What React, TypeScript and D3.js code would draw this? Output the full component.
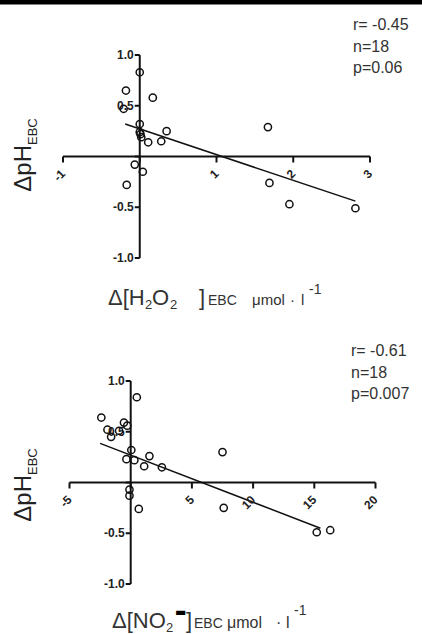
import React from "react";
import * as d3 from "d3";

// ---- data (top panel: H2O2) ----
const h2o2X = [0, -0.18, 0.17, -0.21, 0.0, 0.0, 0.02, 0.11, 0.28, 0.35, 1.67, -0.065, 0.04, -0.17, 1.69, 1.95, 2.81, 0.01];
const h2o2Y = [0.83, 0.65, 0.58, 0.47, 0.32, 0.24, 0.19, 0.14, 0.15, 0.25, 0.29, -0.08, -0.15, -0.28, -0.26, -0.47, -0.51, 0.22];
const h2o2FitX = [-0.19, 2.81];
const h2o2FitY = [0.32, -0.44];
const h2o2XTicks = [-1, 0, 1, 2, 3];
const h2o2Stats = ["r= -0.45", "n=18", "p=0.06"];

// ---- data (bottom panel: NO2-) ----
const no2X = [0.5, -2.4, -1.9, -1.6, -0.95, -0.55, -0.28, 0.05, -0.35, 0.3, 1.53, 1.1, 2.55, 7.5, -0.1, -0.1, 0.66, 7.6, 15.2, 16.3];
const no2Y = [0.84, 0.64, 0.52, 0.45, 0.51, 0.59, 0.56, 0.32, 0.23, 0.22, 0.26, 0.16, 0.15, 0.30, -0.07, -0.13, -0.26, -0.25, -0.49, -0.47];
const no2FitX = [-2.5, 15.5];
const no2FitY = [0.385, -0.45];
const no2XTicks = [-5, 0, 5, 10, 15, 20];
const no2Stats = ["r= -0.61", "n=18", "p=0.007"];

const yTicks = [1.0, 0.5, 0, -0.5, -1.0];

const FONT = "'Liberation Sans', Arial, sans-serif";
const fmtY = (v: number) => d3.format(".1f")(v).replace("\u2212", "-");
const fmtX = (v: number) => String(v);

type PanelProps = {
  xs: number[]; ys: number[]; fitX: number[]; fitY: number[];
  xTicks: number[]; stats: string[];
  xRange: [number, number]; yTop: number; yBottom: number;
  statsX: number; statsY: number; statsGap: number;
  yLabelX: number; yLabelY: number;
  xLabel: React.ReactNode;
};

function Panel(p: PanelProps) {
  const xDomain = d3.extent(p.xTicks) as [number, number];
  const x = d3.scaleLinear().domain(xDomain).range(p.xRange);
  const y = d3.scaleLinear().domain([-1, 1]).range([p.yBottom, p.yTop]);
  const line = d3.line<number>().x((d, i) => x(p.fitX[i])).y((d, i) => y(p.fitY[i]));
  const x0 = x(0);
  const y0 = y(0);
  return (
    <g>
      <path d={line(p.fitX) || ""} fill="none" stroke="#111" strokeWidth={1.5} />
      <line x1={p.xRange[0]} x2={p.xRange[1]} y1={y0} y2={y0} stroke="#111" strokeWidth={2} />
      {p.xTicks.map((t) => (
        <g key={"xt" + t}>
          <line x1={x(t)} x2={x(t)} y1={y0} y2={y0 + 6} stroke="#111" strokeWidth={2} />
          {t !== 0 && (
            <text
              transform={`translate(${x(t) + 3},${y0 + 18}) rotate(-45)`}
              textAnchor="end"
              fontSize={12}
              fontWeight="bold"
              fontFamily={FONT}
              fill="#222"
            >
              {fmtX(t)}
            </text>
          )}
        </g>
      ))}
      <line x1={x0} x2={x0} y1={y(1)} y2={y(-1)} stroke="#111" strokeWidth={2} />
      {yTicks.map((t) => (
        <g key={"yt" + t}>
          <line x1={x0 - 5} x2={x0} y1={y(t)} y2={y(t)} stroke="#111" strokeWidth={2} />
          {t !== 0 && (
            <text x={x0 - 6} y={y(t)} dy="0.35em" textAnchor="end" fontSize={12} fontWeight="bold" fontFamily={FONT} fill="#222">
              {fmtY(t)}
            </text>
          )}
        </g>
      ))}
      {p.xs.map((v, i) => (
        <circle key={"pt" + i} cx={x(v)} cy={y(p.ys[i])} r={3.6} fill="none" stroke="#111" strokeWidth={1.5} />
      ))}
      {p.stats.map((s, i) => (
        <text key={"st" + i} x={p.statsX} y={p.statsY + i * p.statsGap} fontSize={16} fontFamily={FONT} fill="#333">
          {s}
        </text>
      ))}
      <text
        transform={`translate(${p.yLabelX},${p.yLabelY}) rotate(-90)`}
        textAnchor="middle"
        fontFamily={FONT}
        fill="#222"
      >
        <tspan fontSize={24}>ΔpH</tspan>
        <tspan fontSize={13} dy={6}>EBC</tspan>
      </text>
      {p.xLabel}
    </g>
  );
}

export default function App() {
  const W = 422;
  const H = 634;
  return (
    <svg width={W} height={H} style={{ position: "absolute", left: 0, top: 0, background: "#fff" }}>
      <rect x={0} y={0} width={W} height={H} fill="#fff" />
      <rect x={0} y={0} width={W} height={4.5} fill="#000" />
      <Panel
        xs={h2o2X} ys={h2o2Y} fitX={h2o2FitX} fitY={h2o2FitY}
        xTicks={h2o2XTicks} stats={h2o2Stats}
        xRange={[63, 370]} yTop={55} yBottom={258}
        statsX={353} statsY={30} statsGap={21.5}
        yLabelX={31} yLabelY={155}
        xLabel={
          <text y={305} fontFamily={FONT} fill="#333">
            <tspan x={108} fontSize={22}>Δ[H</tspan>
            <tspan x={145} fontSize={13} dy={4}>2</tspan>
            <tspan x={152} fontSize={22} dy={-4}>O</tspan>
            <tspan x={170} fontSize={13} dy={4}>2</tspan>
            <tspan x={199} fontSize={22} dy={-4}>]</tspan>
            <tspan x={208} fontSize={14}>EBC</tspan>
            <tspan x={252} fontSize={15}>μmol</tspan>
            <tspan x={290} fontSize={15}>·</tspan>
            <tspan x={301} fontSize={15}>l</tspan>
            <tspan x={309} fontSize={14} dy={-11}>-1</tspan>
          </text>
        }
      />
      <Panel
        xs={no2X} ys={no2Y} fitX={no2FitX} fitY={no2FitY}
        xTicks={no2XTicks} stats={no2Stats}
        xRange={[69.5, 375.5]} yTop={381} yBottom={584}
        statsX={351} statsY={356} statsGap={21.5}
        yLabelX={31} yLabelY={485}
        xLabel={
          <text y={628} fontFamily={FONT} fill="#333">
            <tspan x={112} fontSize={22}>Δ[NO</tspan>
            <tspan x={166} fontSize={13} dy={4}>2</tspan>
            <tspan x={175} fontSize={12} dy={-16} fontFamily="'DejaVu Sans'" fill="#000">▬</tspan>
            <tspan x={186} fontSize={22} dy={12}>]</tspan>
            <tspan x={194} fontSize={14}>EBC</tspan>
            <tspan x={227} fontSize={16}>μmol</tspan>
            <tspan x={276} fontSize={16}>·</tspan>
            <tspan x={286} fontSize={16}>l</tspan>
            <tspan x={294} fontSize={14} dy={-13}>-1</tspan>
          </text>
        }
      />
    </svg>
  );
}
